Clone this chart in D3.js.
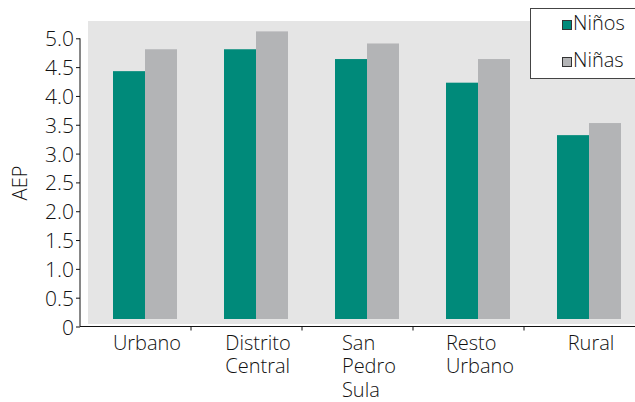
<!DOCTYPE html>
<html>
<head>
<meta charset="utf-8">
<script src="https://cdn.jsdelivr.net/npm/d3@7"></script>
<style>
  html, body { margin: 0; padding: 0; background: #fff; }
  svg { display: block; font-family: "Open Sans", Lato, sans-serif; font-weight: 300; }
</style>
</head>
<body>
<svg id="chart" width="635" height="402"></svg>
<script>
// datos
const categorias = ['Urbano', 'Distrito Central', 'San Pedro Sula', 'Resto Urbano', 'Rural'];
const etiquetas = [['Urbano'], ['Distrito', 'Central'], ['San', 'Pedro', 'Sula'], ['Resto', 'Urbano'], ['Rural']];
const series = ['Niños', 'Niñas'];
const ninos = [4.43, 4.81, 4.64, 4.23, 3.32];
const ninas = [4.81, 5.12, 4.91, 4.64, 3.53];
const ticksY = [0, 0.5, 1, 1.5, 2, 2.5, 3, 3.5, 4, 4.5, 5];
const BASE_BARRA = 0.13;

const COLORES = { 'Niños': '#008a7a', 'Niñas': '#b3b4b6' };
const TEXTO = '#111';

const svg = d3.select('#chart');
const x0 = 80, x1 = 635, yTop = 38.3, yBottom = 326.5;

const x = d3.scaleBand().domain(categorias).range([x0, x1]).paddingInner(0).paddingOuter(0);
const xs = d3.scaleBand().domain(series).range([33, 97]);
const y = d3.scaleLinear().domain([0, 5]).range([yBottom, yTop]);

// fondo gris del area
svg.append('rect')
  .attr('x', 88).attr('y', 21)
  .attr('width', x1 - 88).attr('height', 303)
  .attr('fill', '#e5e5e5');

// barras
const filas = categorias.map((c, i) => ({ c, valores: [ninos[i], ninas[i]] }));
const grupos = svg.append('g').selectAll('g')
  .data(filas)
  .join('g')
  .attr('transform', (d) => `translate(${x(d.c)},0)`);

grupos.selectAll('rect')
  .data((d) => d.valores.map((v, j) => ({ s: series[j], v })))
  .join('rect')
  .attr('x', (d) => xs(d.s))
  .attr('width', xs.bandwidth())
  .attr('y', (d) => y(d.v))
  .attr('height', (d) => y(BASE_BARRA) - y(d.v))
  .attr('fill', (d) => COLORES[d.s]);

// eje Y
const ejeY = svg.append('g')
  .attr('transform', `translate(${x0},0)`)
  .call(d3.axisLeft(y).tickValues(ticksY).tickSize(4).tickPadding(2)
    .tickFormat((d) => (d === 0 ? '0' : d3.format('.1f')(d))));
ejeY.select('.domain').attr('stroke', '#111').attr('d', `M0,${yTop}V${yBottom}`);
ejeY.selectAll('.tick line').attr('stroke', '#111');
ejeY.selectAll('.tick text')
  .attr('fill', TEXTO)
  .style('font-family', '"Open Sans", Lato, sans-serif')
  .style('font-weight', 300)
  .style('font-size', '21px')
  .attr('dy', '0.36em');

// eje X
svg.append('line')
  .attr('x1', x0).attr('x2', x1)
  .attr('y1', yBottom).attr('y2', yBottom)
  .attr('stroke', '#111').attr('stroke-width', 1.2);

svg.append('g').selectAll('line')
  .data(categorias.slice(1))
  .join('line')
  .attr('x1', (d) => x(d)).attr('x2', (d) => x(d))
  .attr('y1', yBottom).attr('y2', yBottom + 4)
  .attr('stroke', '#111');

// etiquetas del eje X, alineadas a la izquierda y centradas como bloque
const etiq = svg.append('g').selectAll('text')
  .data(categorias)
  .join('text')
  .attr('fill', TEXTO)
  .style('font-size', '20px');

etiq.each(function (c, i) {
  const t = d3.select(this);
  etiquetas[i].forEach((linea, k) => {
    t.append('tspan')
      .attr('y', 350 + k * 23.3)
      .text(linea);
  });
  let ancho = 0;
  t.selectAll('tspan').each(function () {
    ancho = Math.max(ancho, this.getComputedTextLength());
  });
  const centro = x(c) + 67;
  t.selectAll('tspan').attr('x', centro - ancho / 2);
});

// titulo eje Y
svg.append('text')
  .attr('transform', 'translate(27,183) rotate(-90)')
  .attr('text-anchor', 'middle')
  .attr('fill', TEXTO)
  .style('font-size', '20px')
  .text('AEP');

// leyenda
const leyenda = svg.append('g');
leyenda.append('rect')
  .attr('x', 530.5).attr('y', 8.5)
  .attr('width', 120).attr('height', 70)
  .attr('fill', '#fff')
  .attr('stroke', '#444');

const items = leyenda.selectAll('g.item')
  .data(series)
  .join('g')
  .attr('class', 'item')
  .attr('transform', (d, i) => `translate(0,${i * 37})`);

items.append('rect')
  .attr('x', 562.5).attr('y', 20.5)
  .attr('width', 9).attr('height', 9)
  .attr('fill', (d) => COLORES[d])
  .attr('stroke', '#333');

items.append('text')
  .attr('x', 573).attr('y', 30)
  .attr('fill', TEXTO)
  .style('font-size', '20px')
  .text((d) => d);
</script>
</body>
</html>
